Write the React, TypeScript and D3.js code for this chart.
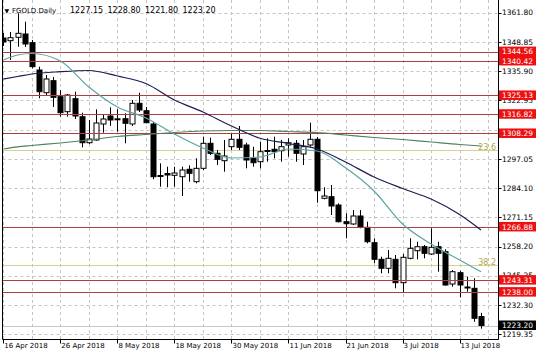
import React from 'react';
import * as d3 from 'd3';

const W = 536;
const H = 357;

// Daily OHLC, 16 Apr 2018 .. 18 Jul 2018 (68 trading days)
const opens = [1350.59,1349.40,1350.90,1352.36,1348.51,1336.41,1326.35,1331.67,1324.58,1317.94,1323.70,1315.72,1304.20,1305.40,1312.49,1316.03,1314.35,1314.83,1312.49,1321.66,1318.38,1312.49,1289.44,1290.55,1289.75,1289.13,1292.41,1286.92,1292.85,1303.93,1299.50,1296.22,1302.43,1305.71,1303.18,1297.29,1295.78,1300.74,1301.28,1300.65,1303.18,1303.93,1299.19,1303.18,1305.71,1279.56,1280.27,1276.59,1269.20,1268.18,1271.72,1266.71,1259.89,1252.53,1248.55,1252.53,1242.17,1252.98,1256.34,1258.12,1254.88,1258.12,1255.90,1241.59,1246.60,1240.26,1239.68,1227.15];
const highs = [1352.81,1353.25,1361.54,1357.81,1349.71,1337.88,1334.20,1333.31,1327.55,1325.78,1326.80,1317.49,1314.26,1319.00,1316.92,1319.89,1319.00,1317.23,1323.12,1326.35,1320.02,1313.37,1295.07,1293.57,1293.57,1293.57,1294.19,1297.29,1306.86,1306.42,1300.97,1305.40,1308.37,1311.60,1304.20,1302.43,1304.64,1306.15,1306.86,1305.40,1306.15,1305.40,1305.40,1313.06,1306.72,1284.44,1285.46,1277.35,1272.92,1274.38,1274.38,1269.20,1261.84,1253.69,1256.65,1254.44,1254.88,1261.84,1260.33,1258.87,1266.27,1260.33,1256.97,1247.79,1247.48,1244.82,1244.12,1228.80];
const lows = [1347.05,1340.84,1346.74,1346.60,1337.17,1323.87,1325.34,1320.02,1315.72,1315.72,1314.70,1302.16,1303.62,1305.09,1308.63,1311.60,1309.07,1303.93,1311.60,1317.80,1312.80,1287.98,1284.70,1284.44,1284.70,1280.58,1286.92,1286.21,1292.10,1298.75,1294.32,1291.35,1300.97,1300.97,1292.85,1293.57,1292.85,1295.78,1297.29,1295.78,1298.00,1295.78,1294.32,1302.43,1277.61,1279.12,1272.16,1268.84,1261.84,1267.73,1266.27,1259.62,1250.76,1246.33,1246.33,1239.68,1237.73,1252.53,1252.53,1252.98,1254.44,1247.04,1240.84,1240.39,1235.70,1238.18,1224.88,1221.80];
const closes = [1348.82,1350.73,1352.67,1347.93,1337.88,1326.80,1332.43,1324.32,1317.49,1325.34,1316.03,1304.20,1305.84,1312.93,1314.70,1314.26,1314.79,1312.80,1321.66,1318.69,1313.06,1289.13,1289.66,1289.89,1290.77,1292.10,1290.64,1292.85,1303.93,1299.50,1296.84,1298.31,1305.71,1302.16,1296.53,1295.34,1300.21,1300.52,1300.21,1302.43,1304.20,1299.50,1302.43,1305.71,1282.93,1280.58,1276.15,1269.20,1268.31,1271.72,1266.71,1260.33,1252.53,1248.55,1252.98,1242.17,1253.42,1257.41,1258.12,1255.19,1257.85,1255.19,1241.15,1247.04,1241.15,1240.04,1226.39,1223.20];

// Moving averages sampled at bar indices
const maIndex = [0,2,4,8,12,16,20,24,28,32,36,40,44,48,52,56,60,64,67];
const maFast = [1340.84,1343.06,1343.72,1340.40,1328.88,1320.02,1315.14,1308.05,1301.85,1297.42,1297.86,1301.41,1300.52,1293.08,1282.80,1268.17,1259.31,1252.22,1247.04];
const maMid = [1332.43,1333.53,1334.64,1335.66,1336.19,1333.75,1330.43,1323.12,1317.80,1311.60,1306.15,1303.85,1301.41,1295.65,1289.00,1283.90,1279.25,1272.39,1265.52];
const maSlow = [1301.41,1302.38,1302.96,1304.07,1305.40,1306.95,1307.83,1308.72,1309.38,1309.61,1309.61,1309.16,1308.72,1307.61,1306.50,1305.62,1304.51,1303.40,1302.74];

const dateTickIndex = [0,8,16,24,32,40,48,56,64];
const dateTickLabels = ['16 Apr 2018','26 Apr 2018','8 May 2018','18 May 2018','30 May 2018','11 Jun 2018','21 Jun 2018','3 Jul 2018','13 Jul 2018'];
const priceTicks = [1361.80,1348.85,1335.90,1322.95,1310.00,1297.05,1284.10,1271.15,1258.20,1245.25,1232.30,1219.35];
// tick labels fully covered by level boxes in the original are not drawn
const hiddenTickLabels = [1310.00];
const levels = [1344.56,1340.42,1325.13,1316.82,1308.29,1266.88,1243.31,1238.00];
const fibLevels = [1300.96,1250.01];
const fibNames = ['23.6','38.2'];
const lastPrice = 1223.20;
const titleSymbol = 'FGOLD.Daily';
const titleValues = ['1227.15','1228.80','1221.80','1223.20'];

const FONT = 'DejaVu Sans, Verdana, sans-serif';

export default function App() {
  const left = 2.5, right = 498.5, bottom = 339.5;
  const x = d3.scaleLinear().domain([0, 67]).range([3.3, 481]);
  const y = d3.scaleLinear().domain([1219.35, 1361.80]).range([334.2, 12.7]);
  const gridIdx = d3.range(0, 69, 4);
  const line = d3.line<number>().x((_, i) => x(maIndex[i])).y(d => y(d)).curve(d3.curveMonotoneX);
  const r = (v: number) => Math.round(v) + 0.5;

  return (
    <div style={{ position: 'fixed', left: 0, top: 0 }}>
      <svg width={W} height={H} style={{ display: 'block', background: '#fff' }}>
        <defs>
          <clipPath id="plot"><rect x={left} y={0} width={right - left} height={bottom} /></clipPath>
        </defs>
        <g clipPath="url(#plot)">
          {priceTicks.map((p, i) => (
            <line key={'hg' + i} x1={left} x2={right} y1={r(y(p))} y2={r(y(p))} stroke="#c4c4c4" strokeDasharray="3,3" />
          ))}
          {gridIdx.map((gi) => (
            <line key={'vg' + gi} x1={r(x(gi))} x2={r(x(gi))} y1={0} y2={bottom} stroke="#c4c4c4" strokeDasharray="3,3" />
          ))}
          {fibLevels.map((p, i) => (
            <line key={'fb' + i} x1={left} x2={right} y1={r(y(p))} y2={r(y(p))} stroke="#d6cf8e" />
          ))}
          <line x1={left} x2={right} y1={r(y(lastPrice))} y2={r(y(lastPrice))} stroke="#c8c8c8" />
          {opens.map((o, i) => {
            const c = closes[i];
            const cx = Math.round(x(i)) + 0.5;
            const top = y(Math.max(o, c));
            const bot = y(Math.min(o, c));
            const bull = c >= o;
            return (
              <g key={'c' + i}>
                <line x1={cx} x2={cx} y1={y(highs[i])} y2={y(lows[i])} stroke="#000" />
                <rect x={cx - 2.5} y={top} width={5} height={Math.max(bot - top, 1)} fill={bull ? '#fff' : '#000'} stroke="#000" strokeWidth={1} />
              </g>
            );
          })}
          {levels.map((p, i) => (
            <line key={'lv' + i} x1={left} x2={right} y1={r(y(p))} y2={r(y(p))} stroke="#ac4040" />
          ))}
          <path d={line(maSlow) || ''} fill="none" stroke="#4f8060" strokeWidth={1.2} />
          <path d={line(maMid) || ''} fill="none" stroke="#1d1d52" strokeWidth={1.2} />
          <path d={line(maFast) || ''} fill="none" stroke="#5aa5a5" strokeWidth={1.2} />
          {fibLevels.map((p, i) => (
            <text key={'ft' + i} x={496} y={y(p) - 0.5} textAnchor="end" fontFamily={FONT} fontSize={8} fill="#b5a845">{fibNames[i]}</text>
          ))}
        </g>
        {/* frame */}
        <line x1={left} x2={left} y1={0} y2={bottom} stroke="#000" />
        <line x1={right} x2={right} y1={0} y2={bottom} stroke="#000" />
        <line x1={left} x2={right} y1={bottom} y2={bottom} stroke="#000" />
        {/* x axis */}
        {dateTickIndex.map((di, i) => (
          <g key={'xt' + i}>
            <line x1={r(x(di))} x2={r(x(di))} y1={bottom} y2={bottom + 4} stroke="#000" />
            <text x={x(di) + 1} y={348} fontFamily={FONT} fontSize={7} fill="#000">{dateTickLabels[i]}</text>
          </g>
        ))}
        {/* y axis */}
        {priceTicks.map((p, i) => (
          <g key={'yt' + i}>
            <line x1={right} x2={right + 3} y1={r(y(p))} y2={r(y(p))} stroke="#000" />
            {hiddenTickLabels.indexOf(p) < 0 && (
              <text x={502} y={y(p)} dy="0.36em" fontFamily={FONT} fontSize={7.5} fill="#000">{p.toFixed(2)}</text>
            )}
          </g>
        ))}
        {levels.map((p, i) => (
          <g key={'lb' + i}>
            <rect x={499} y={y(p) - 5} width={37} height={9.5} fill="#ee1010" />
            <text x={502} y={y(p)} dy="0.36em" fontFamily={FONT} fontSize={7.5} fill="#fff">{p.toFixed(2)}</text>
          </g>
        ))}
        <rect x={499} y={y(lastPrice) - 5} width={37} height={9.5} fill="#000" />
        <text x={502} y={y(lastPrice)} dy="0.36em" fontFamily={FONT} fontSize={7.5} fill="#fff">{lastPrice.toFixed(2)}</text>
        {/* title */}
        <text y={13} fontFamily={FONT} fontSize={7} fill="#000">
          <tspan x={4.5} fontSize={6}>▼</tspan>
          <tspan x={12}>{titleSymbol}</tspan>
          {titleValues.map((v, i) => (
            <tspan key={'tv' + i} x={70 + i * 37.5} fontSize={8}>{v}</tspan>
          ))}
        </text>
      </svg>
    </div>
  );
}
